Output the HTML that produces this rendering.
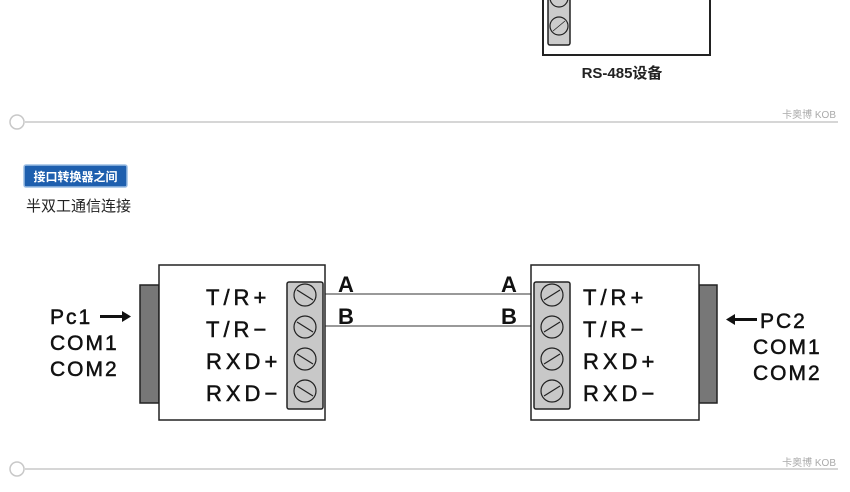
<!DOCTYPE html>
<html><head><meta charset="utf-8"><style>
html,body{margin:0;padding:0;background:#fff;}
svg{display:block}
</style></head><body>
<svg width="850" height="492" viewBox="0 0 850 492" xmlns="http://www.w3.org/2000/svg">
<g stroke="#222" fill="none">
<rect x="543" y="-5" width="167" height="60" fill="#fff" stroke-width="2"/>
<rect x="548" y="-5" width="22" height="50" fill="#ccc" stroke-width="1.5" rx="2"/>
<circle cx="559" cy="-2" r="9" fill="#ccc" stroke-width="1.2"/>
<circle cx="559" cy="26" r="9" fill="#ccc" stroke-width="1.2"/>
<line x1="553" y1="31" x2="565" y2="21" stroke-width="0.8"/>
</g>
<text x="622" y="78" font-family="'Liberation Sans','Noto Sans CJK SC',sans-serif" font-size="15" font-weight="bold" text-anchor="middle" fill="#222">RS-485设备</text>
<g stroke="#c8c8c8" stroke-width="1.5" fill="#fff">
<line x1="25" y1="122" x2="838" y2="122"/>
<circle cx="17" cy="122" r="7"/>
<line x1="25" y1="469" x2="838" y2="469"/>
<circle cx="17" cy="469" r="7"/>
</g>
<g font-family="'Liberation Sans','Noto Sans CJK SC',sans-serif" font-size="10" fill="#aaa" text-anchor="end">
<text x="836" y="118">卡奥博 KOB</text>
<text x="836" y="466">卡奥博 KOB</text>
</g>
<rect x="24" y="165" width="103" height="22" rx="2" fill="#1e5fae" stroke="#9cbde3" stroke-width="1.5"/>
<text x="75.5" y="181" font-family="'Liberation Sans','Noto Sans CJK SC',sans-serif" font-size="12" font-weight="bold" fill="#fff" text-anchor="middle">接口转换器之间</text>
<text x="26" y="211" font-family="'Liberation Sans','Noto Sans CJK SC',sans-serif" font-size="15" fill="#222">半双工通信连接</text>
<g stroke="#333" stroke-width="1">
<line x1="318" y1="294" x2="540" y2="294"/>
<line x1="318" y1="326" x2="540" y2="326"/>
</g>
<g stroke="#222">
<rect x="140" y="285" width="19" height="118" fill="#777" stroke-width="1.5"/>
<rect x="159" y="265" width="166" height="155" fill="#fff" stroke-width="1.5"/>
<rect x="287" y="282" width="36" height="127" rx="2" fill="#c8c8c8" stroke-width="1.5"/>
<rect x="699" y="285" width="18" height="118" fill="#777" stroke-width="1.5"/>
<rect x="531" y="265" width="168" height="155" fill="#fff" stroke-width="1.5"/>
<rect x="534" y="282" width="36" height="127" rx="2" fill="#c8c8c8" stroke-width="1.5"/>
</g>
<g stroke="#222" fill="#c8c8c8" stroke-width="1.2">
<circle cx="305" cy="295" r="11"/><line x1="297" y1="290" x2="313" y2="300"/>
<circle cx="305" cy="327" r="11"/><line x1="297" y1="322" x2="313" y2="332"/>
<circle cx="305" cy="359" r="11"/><line x1="297" y1="354" x2="313" y2="364"/>
<circle cx="305" cy="391" r="11"/><line x1="297" y1="386" x2="313" y2="396"/>
<circle cx="552" cy="295" r="11"/><line x1="544" y1="300" x2="560" y2="290"/>
<circle cx="552" cy="327" r="11"/><line x1="544" y1="332" x2="560" y2="322"/>
<circle cx="552" cy="359" r="11"/><line x1="544" y1="364" x2="560" y2="354"/>
<circle cx="552" cy="391" r="11"/><line x1="544" y1="396" x2="560" y2="386"/>
</g>
<g font-family="'Liberation Sans',sans-serif" font-size="22" fill="#111" stroke="#111" stroke-width="0.5" letter-spacing="4">
<text x="206" y="305">T/R+</text>
<text x="206" y="337">T/R−</text>
<text x="206" y="369">RXD+</text>
<text x="206" y="401">RXD−</text>
<text x="583" y="305">T/R+</text>
<text x="583" y="337">T/R−</text>
<text x="583" y="369">RXD+</text>
<text x="583" y="401">RXD−</text>
</g>
<g font-family="'Liberation Sans',sans-serif" font-size="22" font-weight="bold" fill="#111">
<text x="338" y="292">A</text>
<text x="338" y="324">B</text>
<text x="501" y="292">A</text>
<text x="501" y="324">B</text>
</g>
<g font-family="'Liberation Sans',sans-serif" font-size="21" fill="#111" stroke="#111" stroke-width="0.5" letter-spacing="2">
<text x="50" y="324">Pc1</text>
<text x="50" y="350">COM1</text>
<text x="50" y="376">COM2</text>
<text x="760" y="328">PC2</text>
<text x="753" y="354">COM1</text>
<text x="753" y="380">COM2</text>
</g>
<g fill="#111">
<rect x="100" y="315" width="22" height="3"/><polygon points="122,311 131,316.5 122,322"/>
<rect x="735" y="318" width="22" height="3"/><polygon points="735,314 726,319.5 735,325"/>
</g>
</svg>
</body></html>
